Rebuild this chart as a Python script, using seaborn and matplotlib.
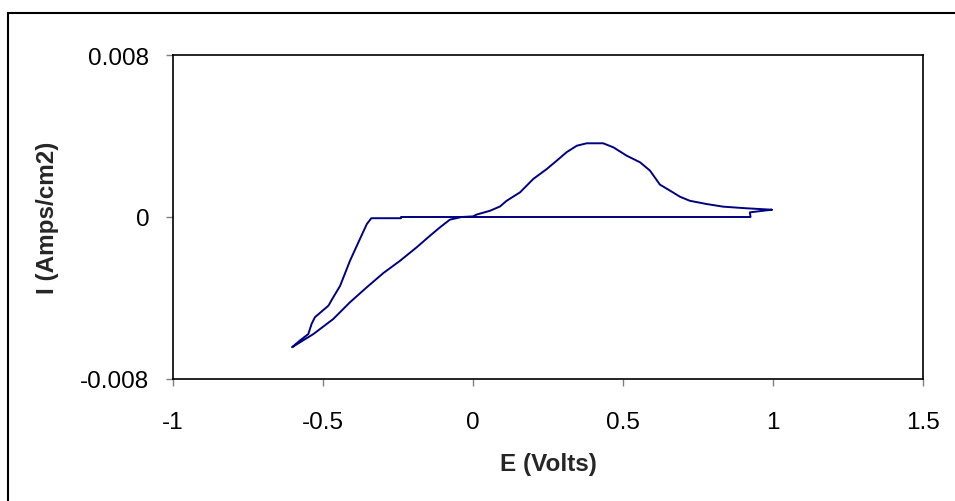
import pandas as pd
import matplotlib
matplotlib.use("Agg")
import matplotlib.pyplot as plt
import seaborn as sns
from matplotlib.patches import Rectangle

# Cyclic voltammogram, traced along the scan path
potential = [0.996, 0.923, 0.925, 0.6, 0.3, -0.24, -0.24, -0.339,
             -0.354, -0.382, -0.41, -0.443, -0.466, -0.482, -0.527, -0.538,
             -0.549, -0.577, -0.603,
             -0.532, -0.466, -0.41, -0.354, -0.299, -0.243, -0.188, -0.143,
             -0.11, -0.077, -0.038, 0.0, 0.012, 0.057, 0.09, 0.112, 0.157,
             0.201, 0.246, 0.279, 0.312, 0.346, 0.379, 0.434, 0.468, 0.512,
             0.557, 0.59, 0.623, 0.657, 0.69, 0.723, 0.779, 0.834, 0.912, 0.996]
current = [0.00036, 0.00023, 0.0, 0.0, 0.0, 0.0, -0.00006, -0.00006,
           -0.00035, -0.00125, -0.00216, -0.0034, -0.00397, -0.00438, -0.00495, -0.00528,
           -0.00578, -0.0061, -0.00643,
           -0.00578, -0.00504, -0.00421, -0.00347, -0.00277, -0.00216, -0.0015, -0.00092,
           -0.00051, -0.00013, 0.0, 0.00003, 0.00012, 0.00031, 0.00052, 0.0008, 0.00122,
           0.00188, 0.00237, 0.00278, 0.0032, 0.00352, 0.00364, 0.00364, 0.00344, 0.00303,
           0.0027, 0.00229, 0.0016, 0.0013, 0.001, 0.0008, 0.00064, 0.00051, 0.00043, 0.00036]

x_ticks = [-1, -0.5, 0, 0.5, 1, 1.5]
x_tick_labels = ["-1", "-0.5", "0", "0.5", "1", "1.5"]
y_ticks = [-0.008, 0, 0.008]
y_tick_labels = ["-0.008", "0", "0.008"]

df = pd.DataFrame({"E": potential, "I": current})

sns.set_theme(style="white")
plt.rcParams["font.family"] = ["Liberation Sans", "DejaVu Sans"]

fig = plt.figure(figsize=(9.55, 5.02), dpi=100)
ax = fig.add_axes([173 / 955, 122 / 502, 750 / 955, 324 / 502])

sns.lineplot(data=df, x="E", y="I", sort=False, estimator=None,
             color="#000080", linewidth=1.4, ax=ax)

ax.set_xlim(-1, 1.5)
ax.set_ylim(-0.008, 0.008)
ax.set_xticks(x_ticks)
ax.set_xticklabels(x_tick_labels)
ax.set_yticks(y_ticks)
ax.set_yticklabels(y_tick_labels)
ax.tick_params(axis="both", direction="out", length=5, width=1,
               color="#808080", labelsize=17.5, colors="black")
ax.tick_params(axis="x", pad=18)
ax.tick_params(axis="y", pad=12)
ax.tick_params(bottom=True, left=True)
for s in ax.spines.values():
    s.set_color("black")
    s.set_linewidth(1.2)

ax.set_xlabel("E (Volts)", fontsize=17.5, fontweight="bold", labelpad=14)
ax.set_ylabel("I (Amps/cm2)", fontsize=17.5, fontweight="bold", labelpad=15)

# outer chart border (clipped at right and bottom like the original)
fig.add_artist(Rectangle((8 / 955, -0.1), 1.2, 1 - 14 / 502 + 0.1,
                         transform=fig.transFigure, fill=False,
                         edgecolor="black", linewidth=1.5))

fig.savefig("out.png", dpi=100)
